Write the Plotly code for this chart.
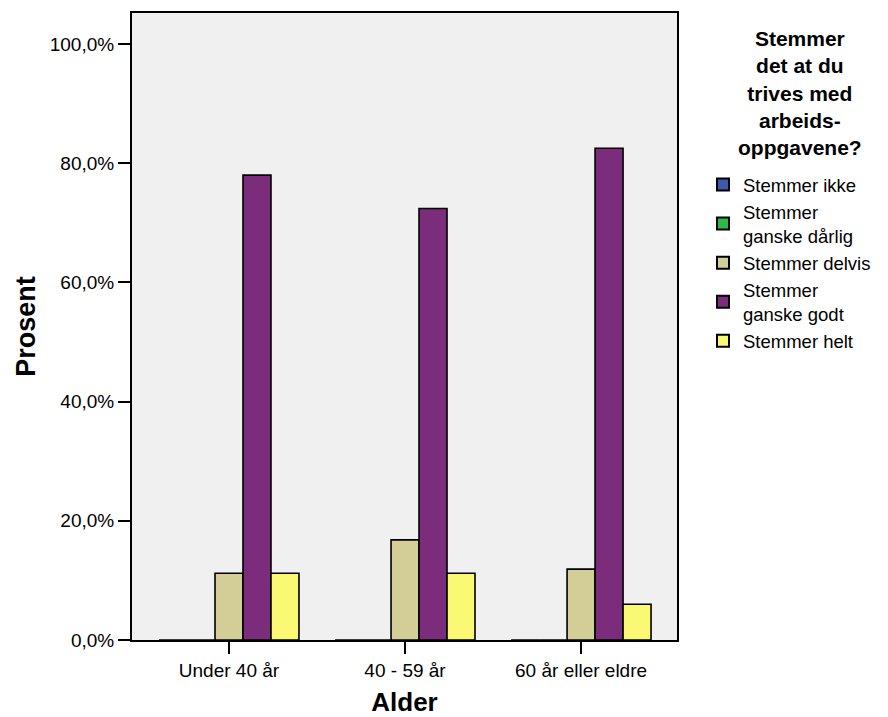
import plotly.graph_objects as go

categories = ["Under 40 år", "40 - 59 år", "60 år eller eldre"]
series_names = ["Stemmer ikke", "Stemmer<br>ganske dårlig", "Stemmer delvis",
                "Stemmer<br>ganske godt", "Stemmer helt"]
stemmer_ikke = [0.0, 0.0, 0.0]
stemmer_ganske_darlig = [0.0, 0.0, 0.0]
stemmer_delvis = [11.2, 16.8, 11.9]
stemmer_ganske_godt = [78.0, 72.4, 82.5]
stemmer_helt = [11.2, 11.2, 6.0]
colors = ["#3E58AC", "#2EB848", "#D3CE97", "#7B2C7B", "#FBF873"]
tick_vals = [0, 20, 40, 60, 80, 100]
tick_text = ["0,0%", "20,0%", "40,0%", "60,0%", "80,0%", "100,0%"]
legend_title_lines = ["Stemmer", "det at du", "trives med", "arbeids-", "oppgavene?"]

values = [stemmer_ikke, stemmer_ganske_darlig, stemmer_delvis, stemmer_ganske_godt, stemmer_helt]

W, H = 888, 717
ML, MR, MT, MB = 132, 211, 13, 77
PW, PH = W - ML - MR, H - MT - MB

fig = go.Figure()
for name, vals, col in zip(series_names, values, colors):
    fig.add_trace(go.Bar(
        x=categories, y=vals, name=name,
        marker=dict(color=col, line=dict(color="black", width=1.6)),
    ))

font = "Liberation Sans, Arial, sans-serif"

fig.add_annotation(
    text="<b>" + "<br>".join(legend_title_lines) + "</b>",
    xref="paper", yref="paper",
    x=(800 - ML) / PW, y=(H - MB - 25) / PH,
    xanchor="center", yanchor="top", align="center", showarrow=False,
    font=dict(size=21, family=font, color="black"),
)

fig.update_layout(
    width=W, height=H,
    margin=dict(l=ML, r=MR, t=MT, b=MB),
    barmode="group", bargap=0.205, bargroupgap=0,
    plot_bgcolor="#F0F0F0", paper_bgcolor="white",
    font=dict(family=font, size=19, color="black"),
    legend=dict(
        xref="container", yref="container",
        x=703 / W, xanchor="left", y=1 - 166 / H, yanchor="top",
        font=dict(size=18.5, family=font),
        itemsizing="constant",
    ),
    xaxis=dict(
        type="category", range=[-0.551, 2.545], automargin=False,
        showline=True, linecolor="black", linewidth=2, mirror=True,
        ticks="outside", ticklen=12, tickwidth=2, tickcolor="black",
        title=dict(text="<b>Alder</b>", font=dict(size=26), standoff=15),
        tickfont=dict(size=19),
    ),
    yaxis=dict(
        range=[0, 105.2], automargin=False,
        tickvals=tick_vals, ticktext=tick_text,
        showline=True, linecolor="black", linewidth=2, mirror=True,
        ticks="outside", ticklen=12, tickwidth=2, tickcolor="black",
        showgrid=False, zeroline=False,
        title=dict(text="<b>Prosent</b>", font=dict(size=27), standoff=6),
        tickfont=dict(size=19),
    ),
)

fig.write_html("out.html")
